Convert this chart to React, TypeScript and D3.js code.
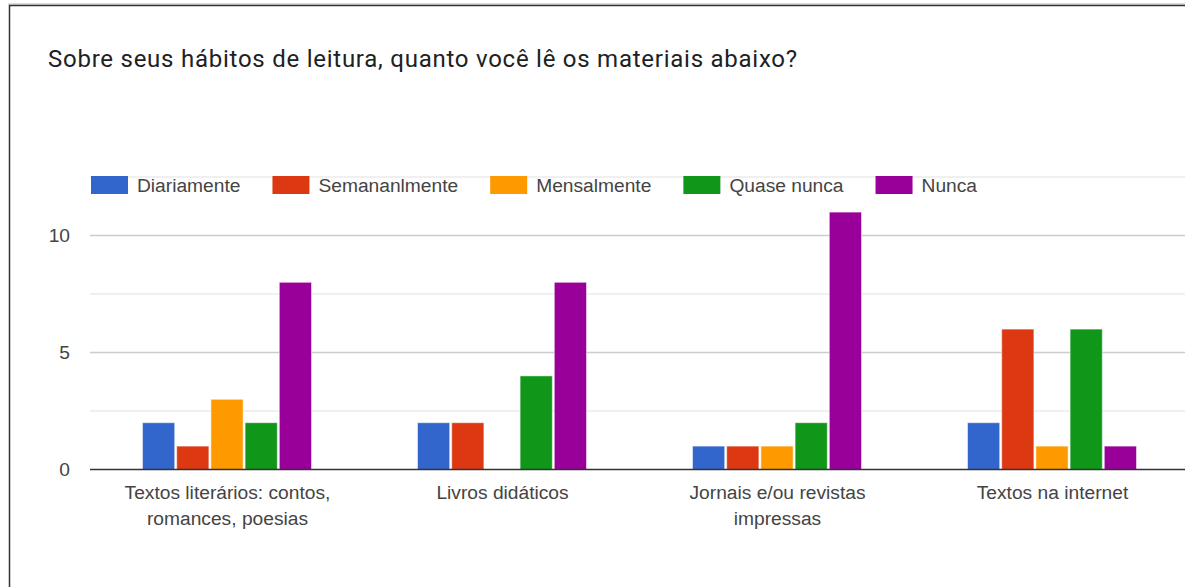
import React, { useEffect, useRef } from "react";
import * as d3 from "d3";

const TITLE = "Sobre seus hábitos de leitura, quanto você lê os materiais abaixo?";
const categories = [
  ["Textos literários: contos,", "romances, poesias"],
  ["Livros didáticos"],
  ["Jornais e/ou revistas", "impressas"],
  ["Textos na internet"],
];
const series = ["Diariamente", "Semananlmente", "Mensalmente", "Quase nunca", "Nunca"];
const colors = ["#3366cc", "#dc3912", "#ff9900", "#109618", "#990099"];
const diariamente = [2, 2, 1, 2];
const semanalmente = [1, 2, 1, 6];
const mensalmente = [3, 0, 1, 1];
const quaseNunca = [2, 4, 2, 6];
const nunca = [8, 8, 11, 1];
const values = [diariamente, semanalmente, mensalmente, quaseNunca, nunca];
const majorTicks = [0, 5, 10];
const minorTicks = [2.5, 7.5, 12.5];

const W = 1185;
const H = 587;
const FONT = "'Liberation Sans', Arial, sans-serif";
const FS = 19.2;

export default function App() {
  const ref = useRef<SVGSVGElement | null>(null);

  useEffect(() => {
    const svg = d3.select(ref.current);
    svg.selectAll("*").remove();

    // frame
    svg.append("rect").attr("width", W).attr("height", H).attr("fill", "#fff");
    svg.append("line").attr("x1", 8).attr("x2", W).attr("y1", 4).attr("y2", 4).attr("stroke", "#bbb").attr("stroke-width", 1);
    svg.append("line").attr("x1", 9).attr("x2", W).attr("y1", 5.5).attr("y2", 5.5).attr("stroke", "#333").attr("stroke-width", 1.5);
    svg.append("line").attr("x1", 9.5).attr("x2", 9.5).attr("y1", 5).attr("y2", H).attr("stroke", "#333").attr("stroke-width", 1.5);

    // title
    svg.append("text")
      .attr("x", 48).attr("y", 67)
      .attr("font-family", "Roboto, 'Noto Sans', sans-serif")
      .attr("font-size", 24)
      .attr("letter-spacing", 0.75)
      .attr("fill", "#202124")
      .text(TITLE);

    const y = d3.scaleLinear().domain([0, 12.5]).range([469.5, 177]);
    const x0 = d3.scaleBand<number>().domain(d3.range(categories.length)).range([90, 1190]).padding(0);
    const groupW = 171;
    const x1 = d3.scaleBand<number>().domain(d3.range(series.length)).range([0, groupW]).padding(0);

    // gridlines
    const grid = svg.append("g");
    grid.selectAll("line.minor").data(minorTicks).join("line")
      .attr("class", "minor")
      .attr("x1", 90).attr("x2", W)
      .attr("y1", (d) => y(d)).attr("y2", (d) => y(d))
      .attr("stroke", "#ebebeb").attr("stroke-width", 1.5);
    grid.selectAll("line.major").data(majorTicks.filter((d) => d !== 0)).join("line")
      .attr("class", "major")
      .attr("x1", 90).attr("x2", W)
      .attr("y1", (d) => y(d)).attr("y2", (d) => y(d))
      .attr("stroke", "#cccccc").attr("stroke-width", 1.5);

    // y labels
    svg.append("g").selectAll("text").data(majorTicks).join("text")
      .attr("x", 70).attr("y", (d) => y(d))
      .attr("dy", "0.35em")
      .attr("text-anchor", "end")
      .attr("font-family", FONT).attr("font-size", FS).attr("fill", "#444")
      .text((d) => String(d));

    // bars
    const bars = svg.append("g");
    categories.forEach((_, ci) => {
      const gx = (x0(ci) as number) + (x0.bandwidth() - groupW) / 2;
      series.forEach((_, si) => {
        const v = values[si][ci];
        if (v <= 0) return;
        bars.append("rect")
          .attr("x", gx + (x1(si) as number) + 0.5)
          .attr("y", y(v))
          .attr("width", x1.bandwidth() - 2)
          .attr("height", y(0) - y(v))
          .attr("fill", colors[si])
          .attr("stroke", "#ffffff")
          .attr("stroke-opacity", 0.5)
          .attr("stroke-width", 1);
      });
    });

    // baseline
    svg.append("line").attr("x1", 90).attr("x2", W).attr("y1", y(0)).attr("y2", y(0))
      .attr("stroke", "#333").attr("stroke-width", 1.5);

    // x labels
    const xl = svg.append("g");
    categories.forEach((lines, ci) => {
      const cx = (x0(ci) as number) + x0.bandwidth() / 2;
      const t = xl.append("text")
        .attr("text-anchor", "middle")
        .attr("font-family", FONT).attr("font-size", FS).attr("fill", "#444");
      lines.forEach((l, li) => {
        t.append("tspan").attr("x", cx).attr("y", 499 + li * 26).text(l);
      });
    });

    // legend
    const leg = svg.append("g");
    let lx = 91;
    series.forEach((s, si) => {
      leg.append("rect").attr("x", lx).attr("y", 176).attr("width", 37).attr("height", 18)
        .attr("fill", colors[si]);
      const t = leg.append("text").attr("x", lx + 46).attr("y", 192)
        .attr("font-family", FONT).attr("font-size", FS).attr("fill", "#444")
        .text(s);
      const w = (t.node() as SVGTextElement).getComputedTextLength();
      lx = lx + 46 + w + 32;
    });
  }, []);

  return (
    <svg
      ref={ref}
      width={W}
      height={H}
      style={{ position: "absolute", left: 0, top: 0, display: "block" }}
    />
  );
}
